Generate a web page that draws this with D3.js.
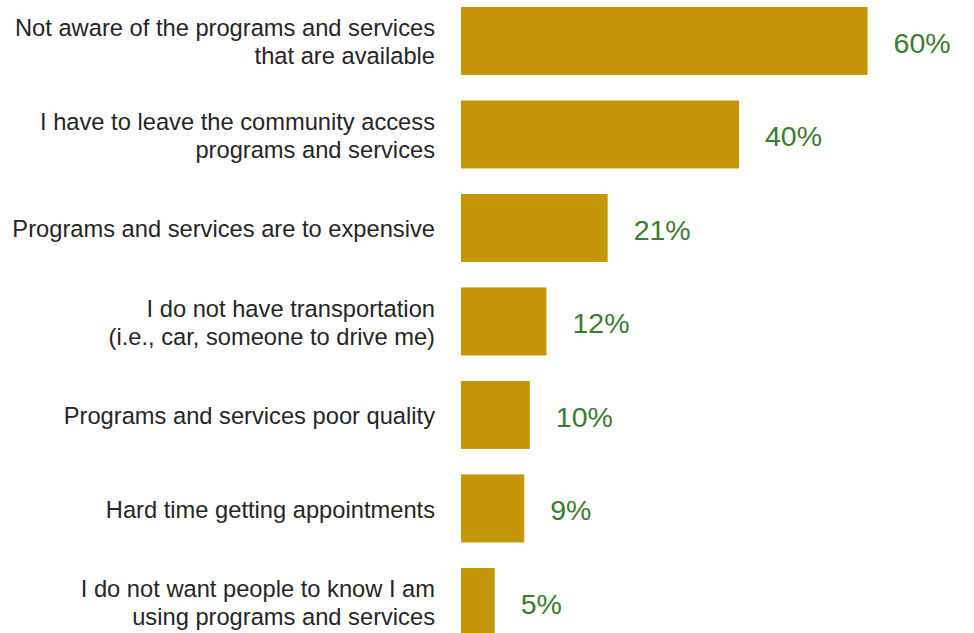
<!DOCTYPE html>
<html>
<head>
<meta charset="utf-8">
<script src="https://cdn.jsdelivr.net/npm/d3@7"></script>
<style>
  body { margin: 0; background: #fff; }
  svg { display: block; }
</style>
</head>
<body>
<svg id="chart-svg"></svg>
<script>
// Chart data
var categories = [
    ['Not aware of the programs and services', 'that are available'],
    ['I have to leave the community access', 'programs and services'],
    ['Programs and services are to expensive'],
    ['I do not have transportation', '(i.e., car, someone to drive me)'],
    ['Programs and services poor quality'],
    ['Hard time getting appointments'],
    ['I do not want people to know I am', 'using programs and services']
];
// bar lengths (labels are the rounded figures)
var values = [58.5, 40, 21.1, 12.3, 9.9, 9.1, 4.85];
var valueLabels = ['60%', '40%', '21%', '12%', '10%', '9%', '5%'];

var width = 974;
var height = 633;

var svg = d3.select('#chart-svg')
    .attr('width', width)
    .attr('height', height);

// Scales
var xScale = d3.scaleLinear().domain([0, 60]).range([461, 878]);
var yScale = d3.scaleBand()
    .domain(d3.range(values.length))
    .range([-5.8, 648.7])
    .paddingInner(0.273)
    .paddingOuter(0.1365);

// Bars
svg.selectAll('.bar')
    .data(values)
    .enter()
    .append('rect')
    .attr('class', 'bar')
    .attr('x', xScale(0))
    .attr('y', function(d, i) { return yScale(i); })
    .attr('width', function(d) { return xScale(d) - xScale(0); })
    .attr('height', yScale.bandwidth())
    .attr('fill', '#c49608');

// Value labels
svg.selectAll('.value')
    .data(values)
    .enter()
    .append('text')
    .attr('class', 'value')
    .attr('x', function(d) { return xScale(d) + 26; })
    .attr('y', function(d, i) { return yScale(i) + yScale.bandwidth() / 2 + 2; })
    .attr('dy', '0.35em')
    .attr('text-anchor', 'start')
    .style('font-family', '"Liberation Sans", Arial, sans-serif')
    .style('font-size', '28.5px')
    .attr('fill', '#3a7d2c')
    .text(function(d, i) { return valueLabels[i]; });

// Category labels
var lineHeight = 28;
var labels = svg.selectAll('.label')
    .data(categories)
    .enter()
    .append('text')
    .attr('class', 'label')
    .attr('text-anchor', 'end')
    .style('font-family', '"Liberation Sans", Arial, sans-serif')
    .style('font-size', '23.7px')
    .attr('fill', '#262626');

labels.each(function(lines, i) {
    var cy = yScale(i) + yScale.bandwidth() / 2 + 1;
    var top = cy - (lines.length - 1) * lineHeight / 2;
    d3.select(this).selectAll('tspan')
        .data(lines)
        .enter()
        .append('tspan')
        .attr('x', 435)
        .attr('y', function(d, j) { return top + j * lineHeight; })
        .attr('dy', '0.35em')
        .text(function(d) { return d; });
});
</script>
</body>
</html>
